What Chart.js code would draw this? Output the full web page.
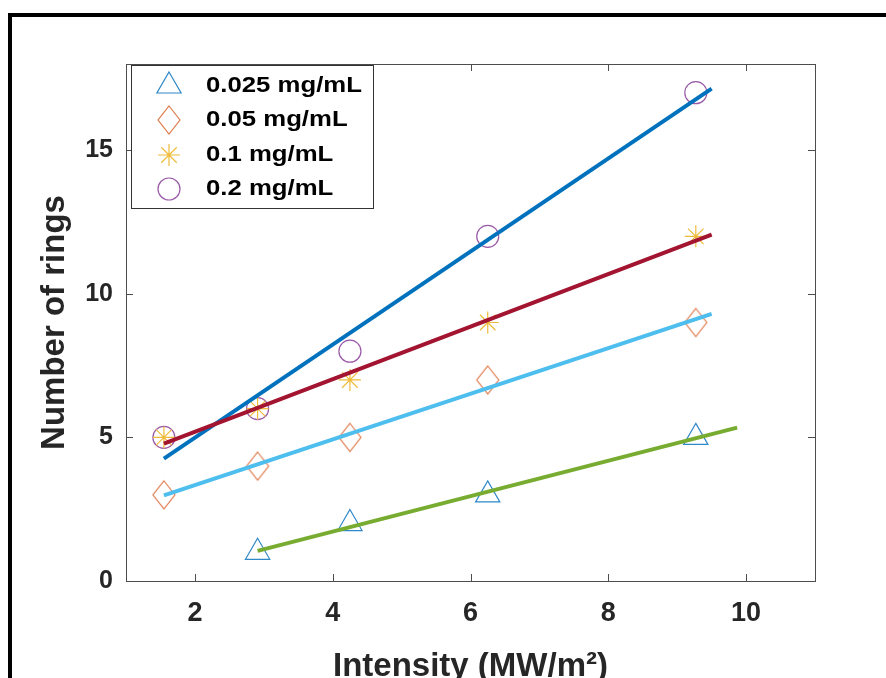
<!DOCTYPE html>
<html>
<head>
<meta charset="utf-8">
<script src="https://cdn.jsdelivr.net/npm/chart.js@4.4.1/dist/chart.umd.min.js"></script>
<style>
  html, body { margin: 0; padding: 0; background: #fff; overflow: hidden; }
  #frame { position: absolute; left: 8px; top: 13px; width: 1000px; height: 800px;
           border-left: 4px solid #000; border-top: 4px solid #000; }
  #wrap { position: absolute; left: 0; top: 0; width: 886px; height: 710px; }
</style>
</head>
<body>
<div id="frame"></div>
<div id="wrap"><canvas id="ringsChart"></canvas></div>
<script>
// measured ring counts per concentration
const seriesNames = ['0.025 mg/mL', '0.05 mg/mL', '0.1 mg/mL', '0.2 mg/mL'];
const intensity = [1.55, 2.91, 4.25, 6.25, 9.27];
const intensity025 = [2.91, 4.25, 6.25, 9.27];
const rings025 = [1, 2, 3, 5];
const rings05 = [3, 4, 5, 7, 9];
const rings1 = [5, 6, 7, 9, 12];
const rings2 = [5, 6, 8, 12, 17];

// linear fit end points
const fitX025 = [2.91, 9.87];
const fitY025 = [1.05, 5.34];
const fitX = [1.55, 9.5];
const fitY05 = [2.98, 9.30];
const fitY1 = [4.78, 12.06];
const fitY2 = [4.26, 17.14];

const xTicks = [2, 4, 6, 8, 10];
const yTicks = [0, 5, 10, 15];

const markerColors = ['#2f88c8', '#e07a4c', '#efbb3a', '#9a5aa8'];
const fitColors = ['#77AC30', '#4DBEEE', '#A2142F', '#0072BD'];

const pts = (xs, ys) => xs.map((v, i) => ({ x: v, y: ys[i] }));

// tall diamond marker (matlab style 'd')
function diamond(color) {
    const c = document.createElement('canvas');
    c.width = 26; c.height = 32;
    const g = c.getContext('2d');
    g.strokeStyle = color;
    g.lineWidth = 1.2;
    g.beginPath();
    g.moveTo(13, 2); g.lineTo(24, 16); g.lineTo(13, 30); g.lineTo(2, 16);
    g.closePath();
    g.stroke();
    return c;
}

const markerStyles = [
    { pointStyle: 'triangle', radius: 14 },
    { pointStyle: diamond(markerColors[1]), radius: 12 },
    { pointStyle: 'star', radius: 11 },
    { pointStyle: 'circle', radius: 11 }
];

const markerData = [
    pts(intensity025, rings025),
    pts(intensity, rings05),
    pts(intensity, rings1),
    pts(intensity, rings2)
];
const fitData = [
    pts(fitX025, fitY025),
    pts(fitX, fitY05),
    pts(fitX, fitY1),
    pts(fitX, fitY2)
];

const datasets = [];
fitData.forEach((d, i) => {
    datasets.push({
        data: d, showLine: true, borderColor: fitColors[i], borderWidth: 4,
        pointRadius: 0, borderCapStyle: 'butt', order: 1
    });
});
markerData.forEach((d, i) => {
    datasets.push({
        label: seriesNames[i], data: d, showLine: false,
        pointStyle: markerStyles[i].pointStyle, pointRadius: markerStyles[i].radius,
        pointBorderColor: markerColors[i], pointBackgroundColor: 'rgba(0,0,0,0)',
        pointBorderWidth: 1.2, order: 2
    });
});

// axes box with inward ticks on all four sides
const boxAndTicks = {
    id: 'boxAndTicks',
    afterDatasetsDraw(chart) {
        const { ctx, chartArea: a, scales: { x, y } } = chart;
        ctx.save();
        ctx.strokeStyle = '#4d4d4d';
        ctx.lineWidth = 1;
        ctx.strokeRect(a.left + 0.5, a.top + 0.5, a.right - a.left, a.bottom - a.top);
        ctx.beginPath();
        xTicks.forEach(v => {
            const px = Math.round(x.getPixelForValue(v)) + 0.5;
            ctx.moveTo(px, a.bottom); ctx.lineTo(px, a.bottom - 7);
            ctx.moveTo(px, a.top); ctx.lineTo(px, a.top + 7);
        });
        yTicks.forEach(v => {
            const py = Math.round(y.getPixelForValue(v)) + 0.5;
            ctx.moveTo(a.left, py); ctx.lineTo(a.left + 7, py);
            ctx.moveTo(a.right, py); ctx.lineTo(a.right - 7, py);
        });
        ctx.stroke();
        ctx.restore();
    }
};

// legend box in the upper left corner of the plot
const insideLegend = {
    id: 'insideLegend',
    afterDraw(chart) {
        const ctx = chart.ctx;
        const a = chart.chartArea;
        const left = a.left + 5, top = a.top + 1, w = 242, h = 143;
        const rows = [86, 120, 155, 189];
        ctx.save();
        ctx.fillStyle = '#fff';
        ctx.fillRect(left, top, w, h);
        ctx.strokeStyle = '#333';
        ctx.lineWidth = 1;
        ctx.strokeRect(left + 0.5, top + 0.5, w, h);
        seriesNames.forEach((name, i) => {
            ctx.strokeStyle = markerColors[i];
            ctx.fillStyle = 'rgba(0,0,0,0)';
            ctx.lineWidth = 1.2;
            Chart.helpers.drawPoint(ctx, {
                pointStyle: markerStyles[i].pointStyle,
                radius: markerStyles[i].radius,
                borderWidth: 1.2, rotation: 0
            }, left + 38, rows[i]);
            ctx.save();
            ctx.translate(left + 75, rows[i]);
            ctx.scale(1.17, 1);
            ctx.fillStyle = '#000';
            ctx.font = 'bold 22px "Liberation Sans", Arial, sans-serif';
            ctx.textBaseline = 'middle';
            ctx.fillText(name, 0, 0);
            ctx.restore();
        });
        ctx.restore();
    }
};

new Chart(document.getElementById('ringsChart'), {
    type: 'scatter',
    data: { datasets: datasets },
    plugins: [boxAndTicks, insideLegend],
    options: {
        responsive: true,
        maintainAspectRatio: false,
        animation: false,
        layout: { padding: { top: 64, right: 71, left: 0, bottom: 0 } },
        plugins: {
            legend: { display: false },
            tooltip: { enabled: false }
        },
        scales: {
            x: {
                type: 'linear',
                min: 1,
                max: 11,
                afterBuildTicks: s => { s.ticks = xTicks.map(v => ({ value: v })); },
                afterFit: s => { s.height = 129; },
                grid: { display: false, drawTicks: false },
                border: { display: false },
                ticks: {
                    padding: 16,
                    color: '#262626',
                    font: { family: '"Liberation Sans", Arial, sans-serif', size: 27, weight: 'bold' }
                },
                title: {
                    display: true,
                    text: 'Intensity (MW/m²)',
                    color: '#262626',
                    padding: { top: 0, bottom: 23 },
                    font: { family: '"Liberation Sans", Arial, sans-serif', size: 33, weight: 'bold' }
                }
            },
            y: {
                type: 'linear',
                min: 0,
                max: 18,
                afterBuildTicks: s => { s.ticks = yTicks.map(v => ({ value: v })); },
                afterFit: s => { s.width = 126; },
                grid: { display: false, drawTicks: false },
                border: { display: false },
                ticks: {
                    padding: 13,
                    color: '#262626',
                    font: { family: '"Liberation Sans", Arial, sans-serif', size: 25, weight: 'bold' }
                },
                title: {
                    display: true,
                    text: 'Number of rings',
                    color: '#262626',
                    padding: { top: 35, bottom: 0 },
                    font: { family: '"Liberation Sans", Arial, sans-serif', size: 33, weight: 'bold' }
                }
            }
        }
    }
});
</script>
</body>
</html>
